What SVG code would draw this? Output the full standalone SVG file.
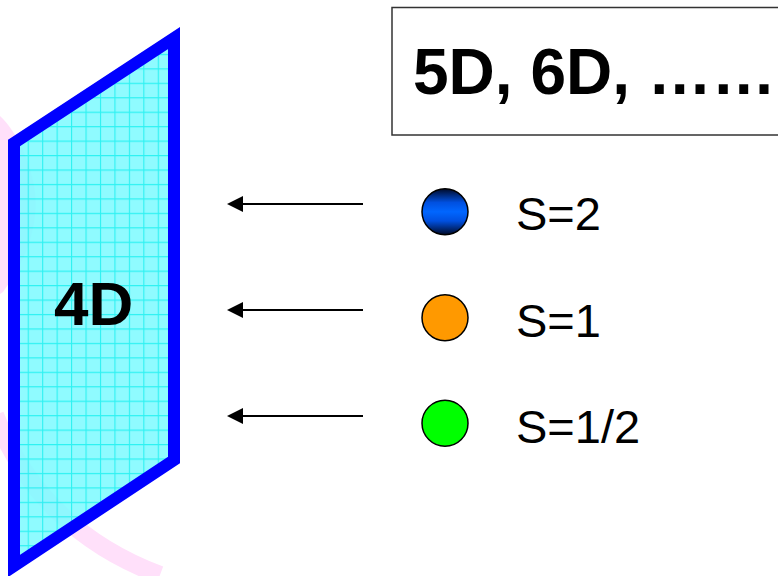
<svg xmlns="http://www.w3.org/2000/svg" width="778" height="576" viewBox="0 0 778 576">
<style>
.arrow{stroke:#000;stroke-width:2;fill:none;marker-end:url(#ah)}
.ball{stroke:#000;stroke-width:1.5}
.lbl{font-family:"Liberation Sans",Arial,sans-serif;font-size:47px;fill:#000}
.big{font-family:"Liberation Sans",Arial,sans-serif;font-weight:bold;fill:#000}
</style>
<defs>
<marker id="ah" markerWidth="16" markerHeight="16" refX="0" refY="8" orient="auto" markerUnits="userSpaceOnUse">
<path d="M0,0 L16,8 L0,16 Z" fill="#000"/>
</marker>
<pattern id="grid" patternUnits="userSpaceOnUse" x="13.25" y="10.5" width="14.45" height="14.45">
<rect width="14.45" height="14.45" fill="#80FAFF"/>
<path d="M0.5,0 V14.45 M0,0.5 H14.45" stroke="#10F0F0" stroke-width="1.2"/>
</pattern>
<linearGradient id="blueg" x1="0" y1="0" x2="0" y2="1">
<stop offset="0" stop-color="#000a28"/>
<stop offset="0.3" stop-color="#0050e0"/>
<stop offset="0.5" stop-color="#0066ff"/>
<stop offset="0.7" stop-color="#0050e0"/>
<stop offset="1" stop-color="#000a28"/>
</linearGradient>
</defs>
<rect width="778" height="576" fill="#fff"/>
<g id="swoosh" fill="#FFE0FA" stroke="none">
<path d="M0,116 C18,132 40,178 35,215 C32,245 20,268 3,292 L0,294 Z"/>
<path d="M-5,415 Q40,530 160,575" fill="none" stroke="#FFE0FA" stroke-width="18"/>
</g>
<g id="panel4d">
<polygon points="14,143 174,38 174,460 14,566" fill="url(#grid)" fill-opacity="0.88" stroke="#0000FF" stroke-width="12" stroke-linejoin="miter"/>
<text class="big" x="54" y="325" font-size="62">4D</text>
</g>
<g id="box">
<rect x="392" y="7.5" width="400" height="127.5" fill="#fff" stroke="#333" stroke-width="1.5"/>
<text class="big" x="413" y="94" font-size="64">5D, 6D, ……</text>
</g>
<g id="connectors">
<line class="arrow" x1="363" y1="204" x2="243" y2="204"/>
<line class="arrow" x1="363" y1="310" x2="243" y2="310"/>
<line class="arrow" x1="363" y1="416" x2="243" y2="416"/>
</g>
<g id="s2">
<circle class="ball" cx="445" cy="211.7" r="23" fill="url(#blueg)"/>
<text class="lbl" x="516" y="230">S=2</text>
</g>
<g id="s1">
<circle class="ball" cx="445" cy="317.7" r="23" fill="#FF9900"/>
<text class="lbl" x="516" y="336.5">S=1</text>
</g>
<g id="shalf">
<circle class="ball" cx="445" cy="423.3" r="23" fill="#00FF00"/>
<text class="lbl" x="516" y="443">S=1/2</text>
</g>
</svg>
